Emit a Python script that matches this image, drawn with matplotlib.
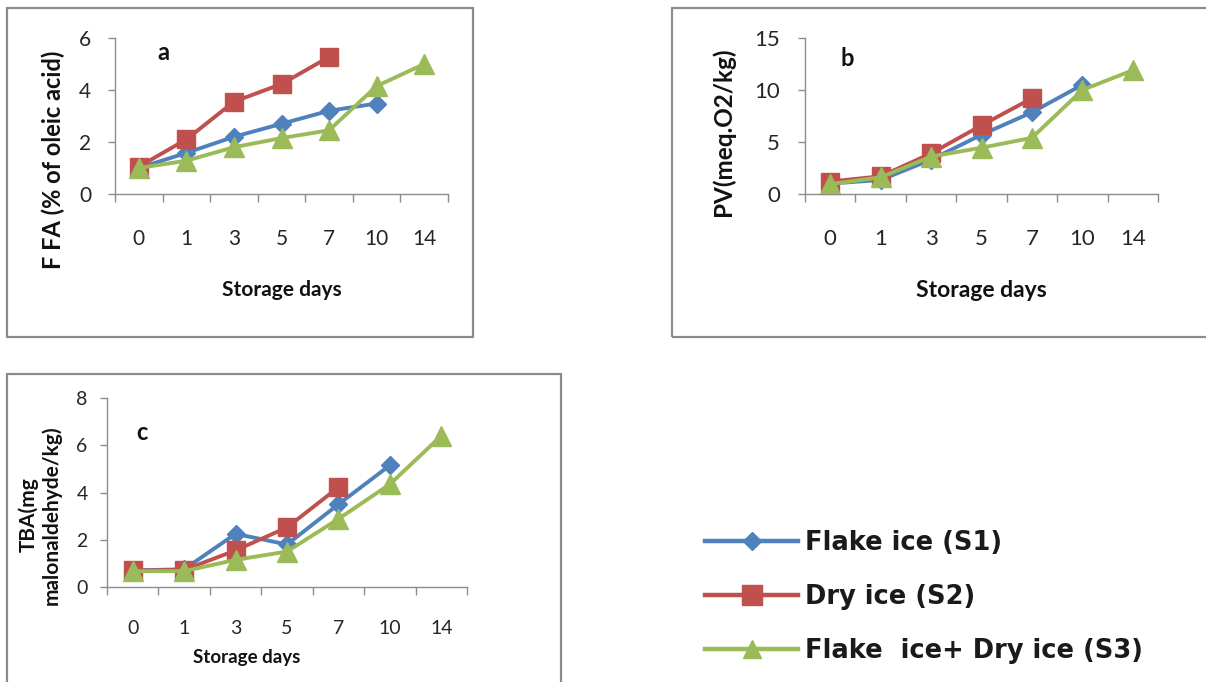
import numpy as np
import matplotlib
matplotlib.use("Agg")
import matplotlib.pyplot as plt
from matplotlib.patches import Rectangle
from matplotlib.lines import Line2D

days = ['0', '1', '3', '5', '7', '10', '14']
series_names = ['Flake ice (S1)', 'Dry ice (S2)', 'Flake  ice+ Dry ice (S3)']

ffa_s1 = [1.0, 1.58, 2.2, 2.7, 3.2, 3.48, np.nan]
ffa_s2 = [1.05, 2.1, 3.55, 4.23, 5.27, np.nan, np.nan]
ffa_s3 = [1.0, 1.28, 1.8, 2.15, 2.45, 4.15, 5.0]

pv_s1 = [1.0, 1.35, 3.3, 5.7, 7.85, 10.5, np.nan]
pv_s2 = [1.2, 1.7, 3.9, 6.6, 9.2, np.nan, np.nan]
pv_s3 = [0.95, 1.6, 3.6, 4.45, 5.4, 10.0, 11.9]

tba_s1 = [0.7, 0.75, 2.25, 1.8, 3.5, 5.15, np.nan]
tba_s2 = [0.7, 0.72, 1.55, 2.52, 4.22, np.nan, np.nan]
tba_s3 = [0.67, 0.67, 1.15, 1.5, 2.88, 4.35, 6.4]

colors = ['#4F81BD', '#C0504D', '#9BBB59']
markers = ['D', 's', '^']
msizes = [9, 13, 14]

W, H = 1206, 682
fig = plt.figure(figsize=(W / 100, H / 100), dpi=100)
fig.patch.set_facecolor('white')

TICKFONT = 'Lato'
LABFONT = 'Lato'


def px_rect(x0, y0, x1, y1):
    return [x0 / W, 1 - y1 / H, (x1 - x0) / W, (y1 - y0) / H]


# frames
for (x0, y0, x1, y1) in [(7, 8, 473, 337), (672, 8, 1215, 337), (7, 374, 561, 700)]:
    fig.patches.append(Rectangle((x0 / W, 1 - y1 / H), (x1 - x0) / W, (y1 - y0) / H,
                                 transform=fig.transFigure, fill=False,
                                 edgecolor='#8c8c8c', linewidth=1.6))


def panel(rect, data, ymax, ystep, tick_fs, xpad, ypad):
    ax = fig.add_axes(px_rect(*rect))
    x = np.arange(len(days))
    lines = []
    for vals, c, m, ms, name in zip(data, colors, markers, msizes, series_names):
        ln, = ax.plot(x, vals, color=c, marker=m, markersize=ms, linewidth=2.8,
                      markeredgecolor=c, label=name)
        lines.append(ln)
    ax.set_xlim(-0.5, len(days) - 0.5)
    ax.set_ylim(0, ymax)
    ax.set_yticks(np.arange(0, ymax + 0.01, ystep))
    ax.set_yticklabels([f'{v:g}' for v in np.arange(0, ymax + 0.01, ystep)],
                       fontname=TICKFONT, fontsize=tick_fs, color='#262626')
    ax.set_xticks(x)
    ax.set_xticklabels(days, fontname=TICKFONT, fontsize=tick_fs, color='#262626')
    ax.set_xticks(np.arange(-0.5, len(days), 1.0), minor=True)
    ax.tick_params(axis='x', which='major', length=0, pad=xpad)
    ax.tick_params(axis='x', which='minor', length=6, width=1.0, color='#8c8c8c')
    ax.tick_params(axis='y', length=5, width=1.0, color='#8c8c8c', pad=ypad)
    for s in ['top', 'right']:
        ax.spines[s].set_visible(False)
    for s in ['left', 'bottom']:
        ax.spines[s].set_color('#8c8c8c')
        ax.spines[s].set_linewidth(1.0)
    ax.patch.set_alpha(0)
    for ln in ax.lines:
        ln.set_clip_on(False)
    return ax, lines


axa, lines = panel((115, 38, 448, 194), [ffa_s1, ffa_s2, ffa_s3], 6, 2, 15, 25, 12)
axb, _ = panel((805, 38, 1158, 194), [pv_s1, pv_s2, pv_s3], 15, 5, 16, 25, 13)
axc, _ = panel((107, 398, 467, 587), [tba_s1, tba_s2, tba_s3], 8, 2, 14, 24, 9)


def ftext(x, y, s, **kw):
    fig.text(x / W, 1 - y / H, s, **kw)


bold = dict(fontname=LABFONT, fontweight='bold', color='#111111', ha='center', va='center')
ftext(282, 290, 'Storage days', fontsize=15, **bold)
ftext(981, 290, 'Storage days', fontsize=16.5, **bold)
ftext(247, 658, 'Storage days', fontsize=13.5, **bold)
ftext(53, 160, 'F FA (% of oleic acid)', fontsize=17, rotation=90, **bold)
ftext(723, 132, 'PV(meq.O2/kg)', fontsize=17.5, rotation=90, **bold)
ftext(40, 515, 'TBA(mg\nmalonaldehyde/kg)', fontsize=15, rotation=90,
      linespacing=1.1, **bold)
ftext(163, 52, 'a', fontsize=17, **bold)
ftext(847, 59, 'b', fontsize=17, **bold)
ftext(142, 432, 'c', fontsize=17, **bold)

leg_handles = [Line2D([0], [0], color=c, marker=m, markersize=ms, linewidth=3.2,
                      markeredgecolor=c)
               for c, m, ms in zip(colors, markers, [9, 14, 13])]
leg = fig.legend(leg_handles, series_names, loc='upper left',
                 bbox_to_anchor=(705 / W, 1 - 530 / H), frameon=False,
                 prop={'family': 'DejaVu Sans', 'size': 18.5, 'weight': 'bold'},
                 handlelength=3.62, handletextpad=0.28, labelspacing=1.09,
                 borderpad=0, borderaxespad=0)
for t in leg.get_texts():
    t.set_color('#1a1a1a')

fig.savefig('out.png', dpi=100, facecolor='white')
